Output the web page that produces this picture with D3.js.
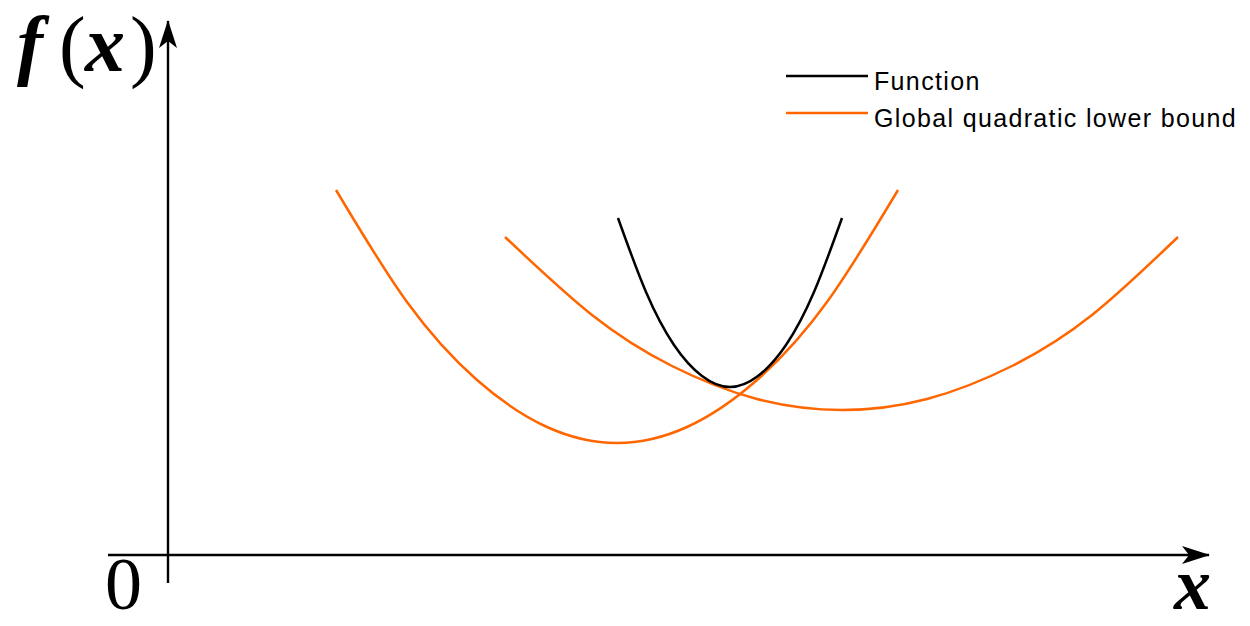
<!DOCTYPE html>
<html>
<head>
<meta charset="utf-8">
<script src="https://cdn.jsdelivr.net/npm/d3@7"></script>
<style>
  html, body { margin: 0; padding: 0; background: #fff; }
  svg { display: block; }
</style>
</head>
<body>
<svg id="chart" width="1250" height="626"></svg>
<script>
// Sample points (x, f(x)) along each curve
const functionX = [4.50, 4.78, 5.06, 5.34, 5.62, 5.90, 6.18, 6.46, 6.74];
const functionY = [3.37, 2.63, 2.10, 1.79, 1.68, 1.79, 2.10, 2.63, 3.37];

const boundAX = [1.68, 2.39, 3.09, 3.79, 4.49, 5.19, 5.89, 6.59, 7.30];
const boundAY = [3.65, 2.53, 1.75, 1.28, 1.12, 1.28, 1.75, 2.53, 3.65];

const boundBX = [3.37, 4.24, 5.04, 5.89, 6.74, 7.59, 8.44, 9.24, 10.10];
const boundBY = [3.18, 2.40, 1.89, 1.56, 1.45, 1.56, 1.89, 2.40, 3.18];

const legendLabels = ["Function", "Global quadratic lower bound"];
const legendColors = ["#000000", "#ff6600"];

const svg = d3.select("#chart");

const x = d3.scaleLinear().domain([0, 10]).range([168, 1168]);
const y = d3.scaleLinear().domain([0, 5]).range([555, 55]);

// Notched arrowhead marker
svg.append("defs").append("marker")
  .attr("id", "arrow")
  .attr("viewBox", "0 0 28 20")
  .attr("refX", 27).attr("refY", 10)
  .attr("markerWidth", 28).attr("markerHeight", 20)
  .attr("markerUnits", "userSpaceOnUse")
  .attr("orient", "auto")
  .append("path")
  .attr("d", "M0,1 L28,10 L0,19 L7,10 Z")
  .attr("fill", "#000");

// Axes
svg.append("line")
  .attr("x1", x(-0.6)).attr("y1", y(0))
  .attr("x2", x(10.41)).attr("y2", y(0))
  .attr("stroke", "#000").attr("stroke-width", 2.4)
  .attr("marker-end", "url(#arrow)");

svg.append("line")
  .attr("x1", x(0)).attr("y1", y(-0.28))
  .attr("x2", x(0)).attr("y2", y(5.34))
  .attr("stroke", "#000").attr("stroke-width", 2.4)
  .attr("marker-end", "url(#arrow)");

// Curves
const line = d3.line()
  .x(d => x(d[0]))
  .y(d => y(d[1]))
  .curve(d3.curveNatural);

const curves = [
  { xs: boundAX, ys: boundAY, color: legendColors[1] },
  { xs: boundBX, ys: boundBY, color: legendColors[1] },
  { xs: functionX, ys: functionY, color: legendColors[0] }
];

svg.selectAll("path.curve")
  .data(curves)
  .join("path")
  .attr("class", "curve")
  .attr("d", c => line(d3.zip(c.xs, c.ys)))
  .attr("fill", "none")
  .attr("stroke", c => c.color)
  .attr("stroke-width", 2.5);

// Axis labels in a math style: italic variables, upright parentheses and digits
const serif = "'Liberation Serif', serif";

const fx = svg.append("text")
  .attr("y", 70)
  .attr("font-family", serif)
  .attr("font-size", 78);
fx.append("tspan").attr("x", 17)
  .attr("font-style", "italic").attr("font-weight", "bold").text("f");
fx.append("tspan").attr("x", 59).attr("y", 72).attr("font-size", 80).text("(");
fx.append("tspan").attr("x", 85).attr("y", 71).attr("font-size", 80)
  .attr("font-style", "italic").attr("font-weight", "bold").text("x");
fx.append("tspan").attr("x", 130).attr("y", 72).attr("font-size", 80).text(")");

svg.append("text")
  .attr("x", 105).attr("y", 609)
  .attr("font-family", serif)
  .attr("font-size", 74)
  .text("0");

svg.append("text")
  .attr("x", 1174).attr("y", 609)
  .attr("font-family", serif)
  .attr("font-style", "italic")
  .attr("font-weight", "bold")
  .attr("font-size", 74)
  .text("x");

// Legend
const legend = svg.append("g").attr("transform", "translate(786, 76)");
const items = legend.selectAll("g")
  .data(legendLabels)
  .join("g")
  .attr("transform", (d, i) => `translate(0, ${i * 37})`);
items.append("line")
  .attr("x1", 0).attr("x2", 82)
  .attr("stroke", (d, i) => legendColors[i])
  .attr("stroke-width", 2.5);
items.append("text")
  .attr("x", 88).attr("y", 14)
  .attr("font-family", "'Liberation Sans', Arial, sans-serif")
  .attr("font-size", 25)
  .attr("letter-spacing", 1.35)
  .text(d => d);
</script>
</body>
</html>
